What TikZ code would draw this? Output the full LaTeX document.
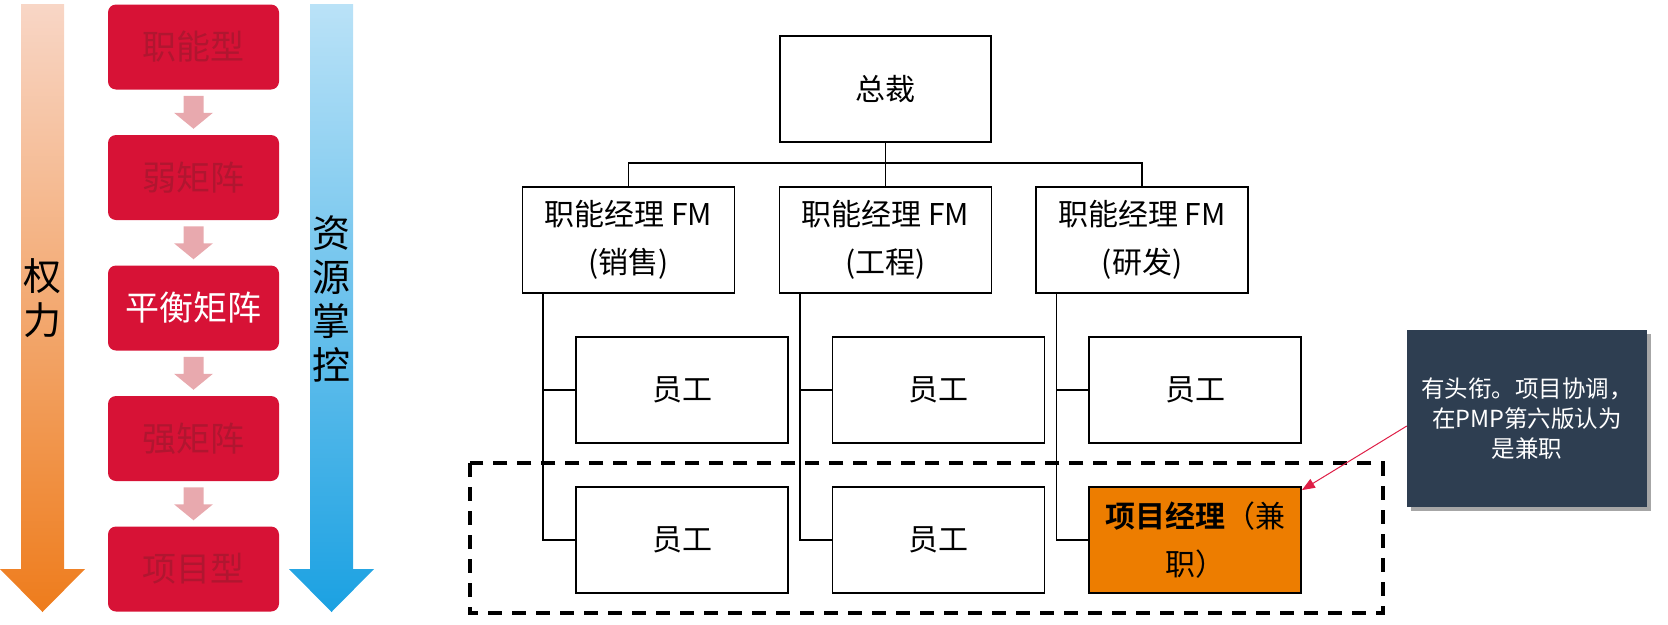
\documentclass[tikz,border=0pt]{standalone}
\usepackage{fontspec}
\setmainfont[BoldFont={Noto Sans CJK SC Bold}]{Noto Sans CJK SC}
\usepackage{tikz}
\usetikzlibrary{shapes,arrows.meta,positioning,calc,shadows}
\usepackage{xcolor}

\definecolor{typered}{RGB}{215,18,54}
\definecolor{typetext}{RGB}{176,22,48}
\definecolor{steppink}{RGB}{232,169,174}
\definecolor{powertop}{RGB}{248,214,198}
\definecolor{powerbot}{RGB}{238,124,28}
\definecolor{restop}{RGB}{186,226,247}
\definecolor{resbot}{RGB}{27,161,226}
\definecolor{pmorange}{RGB}{237,125,0}
\definecolor{notebg}{RGB}{46,62,81}
\definecolor{notearrow}{RGB}{222,30,70}

\begin{document}
\begin{tikzpicture}[x=1pt, y=-1pt, node distance=130.5pt, auto]

    \tikzstyle{tipo} = [
        rectangle,
        rounded corners=8pt,
        fill=typered,
        text=typetext,
        minimum width=171pt,
        minimum height=85pt,
        inner sep=0pt,
        font=\fontsize{34pt}{40pt}\selectfont
    ]
    \tikzstyle{vertical} = [
        align=center,
        inner sep=0pt,
        font=\fontsize{38pt}{44pt}\selectfont
    ]
    \tikzstyle{cargo} = [
        rectangle,
        draw,
        line width=1.8pt,
        minimum width=212pt,
        minimum height=106pt,
        inner sep=0pt,
        align=center,
        font=\fontsize{30pt}{48pt}\selectfont,
        node distance=150pt
    ]
    \tikzstyle{nota} = [
        rectangle,
        fill=notebg,
        text=white,
        minimum width=240pt,
        minimum height=177pt,
        align=center,
        font=\fontsize{23.5pt}{30pt}\selectfont,
        drop shadow={shadow xshift=4pt, shadow yshift=-4pt, opacity=0.35, fill=black}
    ]
    \tikzstyle{linea} = [
        draw,
        line width=1.3pt
    ]

    \useasboundingbox (0,0) rectangle (1668,624);

    % power / resources
    \shade[top color=powertop, bottom color=powerbot]
        (21,4) -- (64,4) -- (64,569) -- (85,569) -- (42.5,612) -- (0,569) -- (21,569) -- cycle;
    \shade[top color=restop, bottom color=resbot]
        (310,4) -- (353,4) -- (353,569) -- (374,569) -- (331.5,612) -- (289,569) -- (310,569) -- cycle;
    \node [vertical] (poder) at (42.5,298) {权\\力};
    \node [vertical] (recursos) at (331.5,299) {资\\源\\掌\\控};

    \node [tipo] (fun) at (193.5,47) {职能型};
    \node [tipo, below of=fun] (deb) {弱矩阵};
    \node [tipo, below of=deb, text=white] (bal) {平衡矩阵};
    \node [tipo, below of=bal] (fue) {强矩阵};
    \node [tipo, below of=fue] (pro) {项目型};

    \foreach \a/\b in {fun/deb, deb/bal, bal/fue, fue/pro}
        \fill[steppink] ($(\a.south)!0.5!(\b.north)$) ++(-10,-16.5) -- ++(20,0) -- ++(0,17)
            -- ++(9.5,0) -- ++(-19.5,16) -- ++(-19.5,-16) -- ++(9.5,0) -- cycle;

    % organigrama
    \node [cargo, minimum width=211pt] (pres) at (885.5,89) {总裁};
    \node [cargo, below of=pres, node distance=151pt] (fmi) {职能经理 FM\\(工程)};
    \node [cargo, left of=fmi, node distance=257pt] (fmv) {职能经理 FM\\(销售)};
    \node [cargo, right of=fmi, node distance=256.5pt] (fmd) {职能经理 FM\\(研发)};

    \node [cargo, below of=fmv, xshift=53.5pt] (ev1) {员工};
    \node [cargo, below of=ev1] (ev2) {员工};
    \node [cargo, below of=fmi, xshift=53pt] (ei1) {员工};
    \node [cargo, below of=ei1] (ei2) {员工};
    \node [cargo, below of=fmd, xshift=53pt] (ed1) {员工};
    \node [cargo, below of=ed1, fill=pmorange] (pm) {\textbf{项目经理}（兼\\职）};

    \path [linea] (pres) -- (fmi);
    \path [linea] (fmv.north) -- ++(0,-23) -| (fmd.north);
    \foreach \m/\u/\d in {fmv/ev1/ev2, fmi/ei1/ei2, fmd/ed1/pm} {
        \path [linea] ([xshift=21.5pt]\m.south west) |- (\u.west);
        \path [linea] ([xshift=21.5pt]\m.south west) |- (\d.west);
    }

    \draw [line width=3.5pt, dash pattern=on 14pt off 10pt]
        ($(ev2.north west)+(-105,-23)$) rectangle ($(pm.south east)+(81,19)$);

    \node [nota] (nota) at (1527,418.5) {有头衔。项目协调，\\在PMP第六版认为\\是兼职};
    \draw [notearrow, line width=1pt, -{Triangle[length=13pt, width=10pt]}]
        ([yshift=-7.5pt]nota.west) -- ([yshift=-4pt]pm.north east);

\end{tikzpicture}
\end{document}
